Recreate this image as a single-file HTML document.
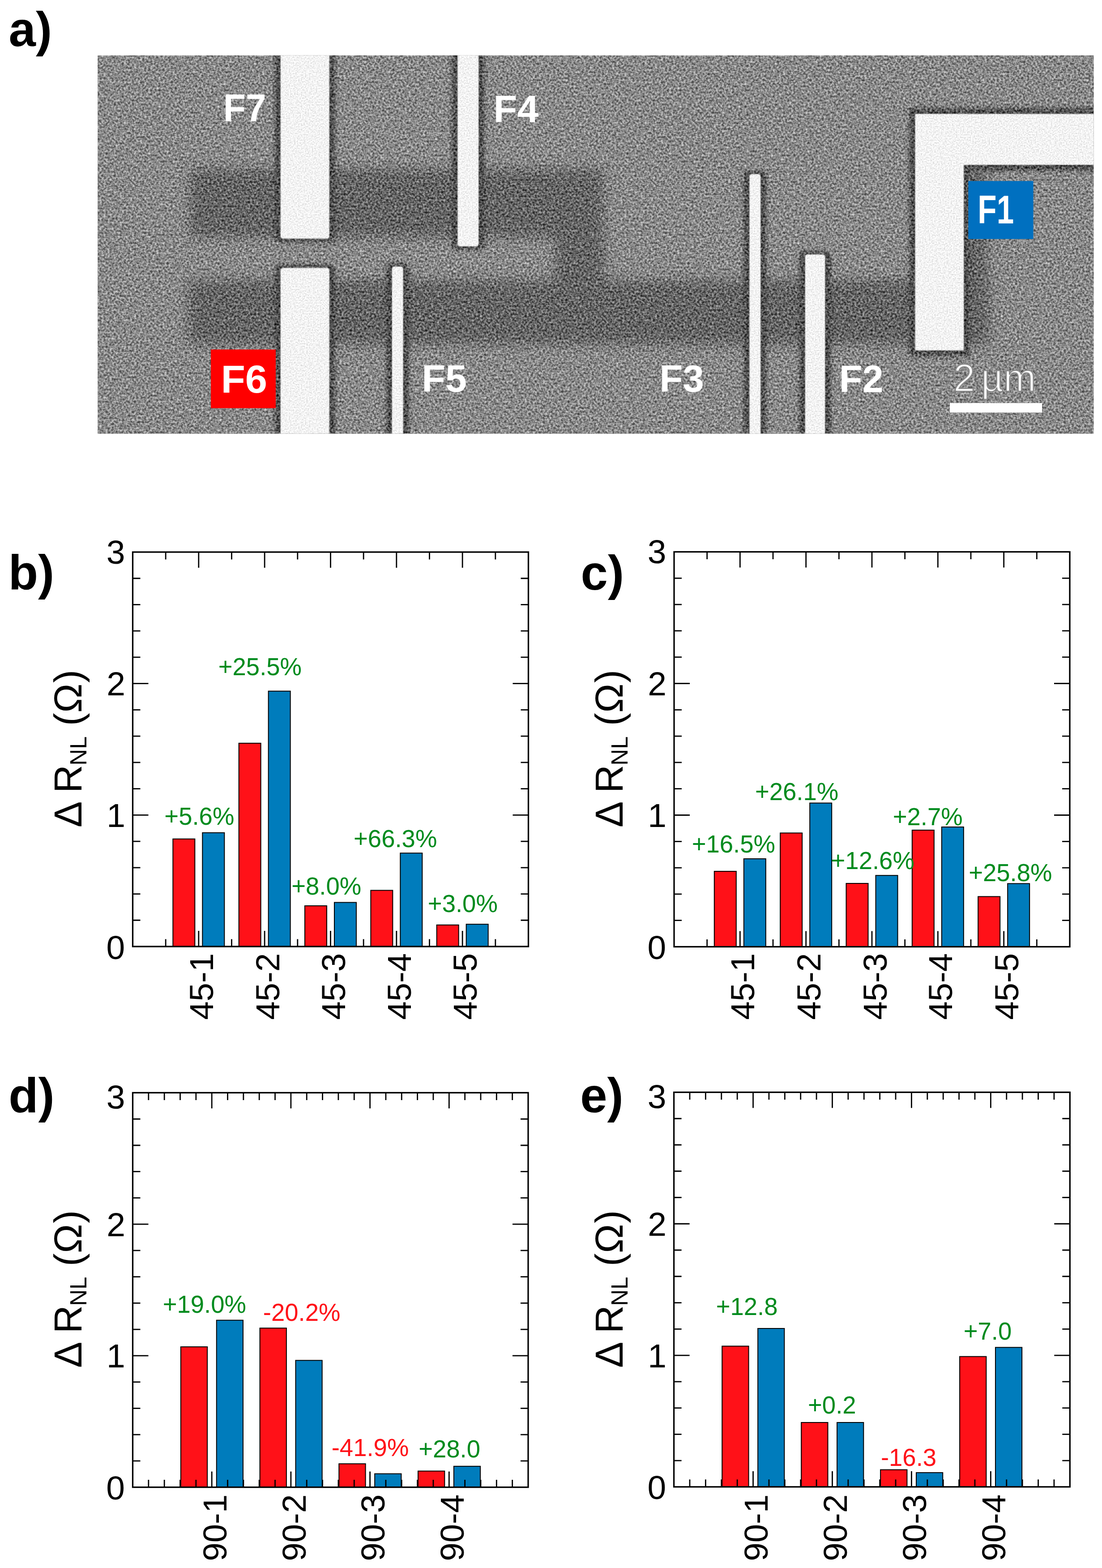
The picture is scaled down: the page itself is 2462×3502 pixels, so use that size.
<!DOCTYPE html><html><head><meta charset="utf-8"><title>Figure</title><style>html,body{margin:0;padding:0;background:#fff;}body{width:2462px;height:3502px;overflow:hidden;}svg{display:block;}text{font-family:"Liberation Sans", Arial, sans-serif;}</style></head><body>
<svg width="2462" height="3502" viewBox="0 0 2462 3502">
<rect width="2462" height="3502" fill="#fff"/>
<defs>
<clipPath id="semclip"><rect x="218.4" y="123.8" width="2225.0" height="844.7"/></clipPath>
<filter id="blur1" x="-20%" y="-30%" width="140%" height="160%"><feGaussianBlur stdDeviation="13"/></filter>
<filter id="blur2" x="-50%" y="-50%" width="200%" height="200%"><feGaussianBlur stdDeviation="4"/></filter>
<filter id="blur3" x="-10%" y="-10%" width="120%" height="120%"><feGaussianBlur stdDeviation="1.2"/></filter>
<filter id="grain" filterUnits="userSpaceOnUse" x="218" y="123" width="2226" height="846" color-interpolation-filters="sRGB"><feTurbulence type="fractalNoise" baseFrequency="0.22" numOctaves="3" seed="7" result="t"/><feColorMatrix in="t" type="matrix" values="1 0 0 0 0  1 0 0 0 0  1 0 0 0 0  0 0 0 0 1" result="n"/><feComposite in="SourceGraphic" in2="n" operator="arithmetic" k1="0" k2="1" k3="0.9500" k4="-0.4750"/></filter>
<filter id="grain2" filterUnits="userSpaceOnUse" x="218" y="123" width="2226" height="846" color-interpolation-filters="sRGB"><feTurbulence type="fractalNoise" baseFrequency="0.33" numOctaves="2" seed="11" result="t"/><feColorMatrix in="t" type="matrix" values="1 0 0 0 0  1 0 0 0 0  1 0 0 0 0  0 0 0 0 1" result="n"/><feComposite in="SourceGraphic" in2="n" operator="arithmetic" k1="0" k2="1" k3="0.35" k4="-0.175" result="c"/><feComposite in="c" in2="SourceGraphic" operator="in"/></filter>
</defs>
<g clip-path="url(#semclip)"><g filter="url(#grain)">
<rect x="218.4" y="123.8" width="2225.0" height="844.7" fill="#898989"/>
<g filter="url(#blur1)" fill="#656565">
<rect x="424" y="378" width="924" height="152" rx="10"/>
<path d="M1240 520H1350V640H1240Z"/>
<rect x="420" y="626" width="1790" height="143" rx="10"/>
<rect x="2150" y="380" width="55" height="390"/>
</g>
<g filter="url(#blur2)" fill="#4e4e4e">
<rect x="614" y="94" width="134.6" height="445.7" rx="8"/>
<rect x="614" y="591.5" width="134.6" height="404.5" rx="8"/>
<rect x="1009.5" y="94" width="72.5" height="463" rx="8"/>
<rect x="863" y="588.5" width="50.5" height="407.5" rx="8"/>
<rect x="1661.5" y="382" width="50.5" height="614" rx="8"/>
<rect x="1786" y="561.5" width="70" height="434.5" rx="8"/>
<path d="M2031.7 241.4H2460V381H2166V795.6H2031.7Z"/>
</g>
</g>
<g filter="url(#grain2)"><g fill="#f3f3f3" filter="url(#blur3)">
<rect x="626" y="100" width="110.6" height="433.7" rx="6"/>
<rect x="626" y="597.5" width="110.6" height="392.5" rx="6"/>
<rect x="1021.5" y="100" width="48.5" height="451" rx="6"/>
<rect x="875" y="594.5" width="26.5" height="395.5" rx="6"/>
<rect x="1673.5" y="388" width="26.5" height="602" rx="6"/>
<rect x="1798" y="567.5" width="46" height="422.5" rx="6"/>
<path d="M2043.7 253.4H2460V369H2154V783.6H2043.7Z"/>
</g></g>
</g>
<rect x="471" y="780.6" width="145" height="131" fill="#ff0000"/>
<rect x="2163.3" y="404.3" width="145.2" height="129.5" fill="#0070c0"/>
<text transform="translate(498.81 270.7) scale(0.9773 1.0417)" font-size="84" font-weight="bold" fill="#fff">F7</text>
<text transform="translate(1102.62 273.3) scale(1.0287 1.0209)" font-size="84" font-weight="bold" fill="#fff">F4</text>
<text transform="translate(493.68 876.75) scale(1.0540 1.0408)" font-size="84" font-weight="bold" fill="#fff">F6</text>
<text transform="translate(942.32 875.26) scale(1.0281 1.0237)" font-size="84" font-weight="bold" fill="#fff">F5</text>
<text transform="translate(1473.6 875.15) scale(1.0137 1.0068)" font-size="84" font-weight="bold" fill="#fff">F3</text>
<text transform="translate(1874.83 876.1) scale(1.0085 1.0230)" font-size="84" font-weight="bold" fill="#fff">F2</text>
<text transform="translate(2184.37 499.3) scale(0.8238 1.0573)" font-size="84" font-weight="bold" fill="#fff">F1</text>
<rect x="2122" y="900.2" width="206.2" height="21.2" fill="#fff"/>
<text x="2130.02" y="873.6" font-size="87" fill="#fff" stroke="#898989" stroke-width="2.6">2</text>
<text x="2191.85" y="873.6" font-size="87" fill="#fff" stroke="#898989" stroke-width="2.6">µm</text>
<text x="19.62" y="102.6" font-size="108.5" font-weight="bold" fill="#000">a)</text>
<text x="18.85" y="1316" font-size="108.5" font-weight="bold" fill="#000">b)</text>
<text x="1297.56" y="1317" font-size="108.5" font-weight="bold" fill="#000">c)</text>
<text x="19.35" y="2483.5" font-size="108.5" font-weight="bold" fill="#000">d)</text>
<text x="1296.16" y="2483.5" font-size="108.5" font-weight="bold" fill="#000">e)</text>
<rect x="386.33" y="1873.7" width="49" height="240.3" fill="#ff1118" stroke="#000" stroke-width="2"/>
<rect x="452.33" y="1859.8" width="49" height="254.2" fill="#007cbc" stroke="#000" stroke-width="2"/>
<rect x="533.67" y="1659.9" width="49" height="454.1" fill="#ff1118" stroke="#000" stroke-width="2"/>
<rect x="599.67" y="1543.6" width="49" height="570.4" fill="#007cbc" stroke="#000" stroke-width="2"/>
<rect x="681" y="2023" width="49" height="91" fill="#ff1118" stroke="#000" stroke-width="2"/>
<rect x="747" y="2015.5" width="49" height="98.5" fill="#007cbc" stroke="#000" stroke-width="2"/>
<rect x="828.33" y="1988.5" width="49" height="125.5" fill="#ff1118" stroke="#000" stroke-width="2"/>
<rect x="894.33" y="1905.3" width="49" height="208.7" fill="#007cbc" stroke="#000" stroke-width="2"/>
<rect x="975.67" y="2065.8" width="49" height="48.2" fill="#ff1118" stroke="#000" stroke-width="2"/>
<rect x="1041.67" y="2064.2" width="49" height="49.8" fill="#007cbc" stroke="#000" stroke-width="2"/>
<path d="M370.17 2114v-16.5M370.17 1233v16.5M443.83 2114v-35M443.83 1233v35M517.5 2114v-16.5M517.5 1233v16.5M591.17 2114v-35M591.17 1233v35M664.83 2114v-16.5M664.83 1233v16.5M738.5 2114v-35M738.5 1233v35M812.17 2114v-16.5M812.17 1233v16.5M885.83 2114v-35M885.83 1233v35M959.5 2114v-16.5M959.5 1233v16.5M1033.17 2114v-35M1033.17 1233v35M1106.83 2114v-16.5M1106.83 1233v16.5M296.5 2055.27h17M1180.5 2055.27h-17M296.5 1996.53h17M1180.5 1996.53h-17M296.5 1937.8h17M1180.5 1937.8h-17M296.5 1879.07h17M1180.5 1879.07h-17M296.5 1820.33h35M1180.5 1820.33h-35M296.5 1761.6h17M1180.5 1761.6h-17M296.5 1702.87h17M1180.5 1702.87h-17M296.5 1644.13h17M1180.5 1644.13h-17M296.5 1585.4h17M1180.5 1585.4h-17M296.5 1526.67h35M1180.5 1526.67h-35M296.5 1467.93h17M1180.5 1467.93h-17M296.5 1409.2h17M1180.5 1409.2h-17M296.5 1350.47h17M1180.5 1350.47h-17M296.5 1291.73h17M1180.5 1291.73h-17" stroke="#000" stroke-width="2.8" fill="none"/>
<rect x="296.5" y="1233" width="884" height="881" fill="none" stroke="#000" stroke-width="3.3"/>
<text x="237.42" y="2141.77" font-size="75" fill="#000">0</text>
<text x="238.15" y="1846.83" font-size="75" fill="#000">1</text>
<text x="238.26" y="1553.17" font-size="75" fill="#000">2</text>
<text x="237.78" y="1258.77" font-size="75" fill="#000">3</text>
<text transform="translate(475.79 2277.81) rotate(-90)" font-size="74.5" fill="#000">45-1</text>
<text transform="translate(623.89 2277.81) rotate(-90)" font-size="74.5" fill="#000">45-2</text>
<text transform="translate(771.22 2277.81) rotate(-90)" font-size="74.5" fill="#000">45-3</text>
<text transform="translate(917.79 2277.81) rotate(-90)" font-size="74.5" fill="#000">45-4</text>
<text transform="translate(1065.12 2277.81) rotate(-90)" font-size="74.5" fill="#000">45-5</text>
<text transform="translate(367.34 1842.45) scale(1 1.03)" font-size="54.5" fill="#008b1e">+5.6%</text>
<text transform="translate(487.74 1508.05) scale(1 1.03)" font-size="54.5" fill="#008b1e">+25.5%</text>
<text transform="translate(651.24 1998.45) scale(1 1.03)" font-size="54.5" fill="#008b1e">+8.0%</text>
<text transform="translate(790.04 1891.75) scale(1 1.03)" font-size="54.5" fill="#008b1e">+66.3%</text>
<text transform="translate(955.84 2037.45) scale(1 1.03)" font-size="54.5" fill="#008b1e">+3.0%</text>
<text transform="rotate(-90)" fill="#000"><tspan x="-1848.11" y="182.3" font-size="87.5">Δ</tspan><tspan x="-1771.28" y="182.3" font-size="87.5">R</tspan><tspan x="-1709.78" y="192.6" font-size="51">NL</tspan><tspan x="-1621.23" y="181.78" font-size="87.5">(</tspan><tspan x="-1592.12" y="182.3" font-size="87.5">Ω</tspan><tspan x="-1524.91" y="181.78" font-size="87.5">)</tspan></text>
<rect x="1595.83" y="1946" width="49" height="168.5" fill="#ff1118" stroke="#000" stroke-width="2"/>
<rect x="1661.83" y="1918" width="49" height="196.5" fill="#007cbc" stroke="#000" stroke-width="2"/>
<rect x="1743.17" y="1860.4" width="49" height="254.1" fill="#ff1118" stroke="#000" stroke-width="2"/>
<rect x="1809.17" y="1793.5" width="49" height="321" fill="#007cbc" stroke="#000" stroke-width="2"/>
<rect x="1890.5" y="1973" width="49" height="141.5" fill="#ff1118" stroke="#000" stroke-width="2"/>
<rect x="1956.5" y="1955.2" width="49" height="159.3" fill="#007cbc" stroke="#000" stroke-width="2"/>
<rect x="2037.83" y="1854" width="49" height="260.5" fill="#ff1118" stroke="#000" stroke-width="2"/>
<rect x="2103.83" y="1847" width="49" height="267.5" fill="#007cbc" stroke="#000" stroke-width="2"/>
<rect x="2185.17" y="2002.4" width="49" height="112.1" fill="#ff1118" stroke="#000" stroke-width="2"/>
<rect x="2251.17" y="1973.4" width="49" height="141.1" fill="#007cbc" stroke="#000" stroke-width="2"/>
<path d="M1579.67 2114.5v-16.5M1579.67 1232.5v16.5M1653.33 2114.5v-35M1653.33 1232.5v35M1727 2114.5v-16.5M1727 1232.5v16.5M1800.67 2114.5v-35M1800.67 1232.5v35M1874.33 2114.5v-16.5M1874.33 1232.5v16.5M1948 2114.5v-35M1948 1232.5v35M2021.67 2114.5v-16.5M2021.67 1232.5v16.5M2095.33 2114.5v-35M2095.33 1232.5v35M2169 2114.5v-16.5M2169 1232.5v16.5M2242.67 2114.5v-35M2242.67 1232.5v35M2316.33 2114.5v-16.5M2316.33 1232.5v16.5M1506 2055.7h17M2390 2055.7h-17M1506 1996.9h17M2390 1996.9h-17M1506 1938.1h17M2390 1938.1h-17M1506 1879.3h17M2390 1879.3h-17M1506 1820.5h35M2390 1820.5h-35M1506 1761.7h17M2390 1761.7h-17M1506 1702.9h17M2390 1702.9h-17M1506 1644.1h17M2390 1644.1h-17M1506 1585.3h17M2390 1585.3h-17M1506 1526.5h35M2390 1526.5h-35M1506 1467.7h17M2390 1467.7h-17M1506 1408.9h17M2390 1408.9h-17M1506 1350.1h17M2390 1350.1h-17M1506 1291.3h17M2390 1291.3h-17" stroke="#000" stroke-width="2.8" fill="none"/>
<rect x="1506" y="1232.5" width="884" height="882" fill="none" stroke="#000" stroke-width="3.3"/>
<text x="1446.42" y="2142.27" font-size="75" fill="#000">0</text>
<text x="1447.15" y="1847" font-size="75" fill="#000">1</text>
<text x="1447.26" y="1553" font-size="75" fill="#000">2</text>
<text x="1446.78" y="1258.27" font-size="75" fill="#000">3</text>
<text transform="translate(1685.29 2277.81) rotate(-90)" font-size="74.5" fill="#000">45-1</text>
<text transform="translate(1833.39 2277.81) rotate(-90)" font-size="74.5" fill="#000">45-2</text>
<text transform="translate(1980.72 2277.81) rotate(-90)" font-size="74.5" fill="#000">45-3</text>
<text transform="translate(2127.29 2277.81) rotate(-90)" font-size="74.5" fill="#000">45-4</text>
<text transform="translate(2274.62 2277.81) rotate(-90)" font-size="74.5" fill="#000">45-5</text>
<text transform="translate(1545.64 1904.25) scale(1 1.03)" font-size="54.5" fill="#008b1e">+16.5%</text>
<text transform="translate(1686.94 1787.05) scale(1 1.03)" font-size="54.5" fill="#008b1e">+26.1%</text>
<text transform="translate(1856.54 1940.55) scale(1 1.03)" font-size="54.5" fill="#008b1e">+12.6%</text>
<text transform="translate(1994.74 1843.17) scale(1 1.03)" font-size="54.5" fill="#008b1e">+2.7%</text>
<text transform="translate(2164.14 1968.45) scale(1 1.03)" font-size="54.5" fill="#008b1e">+25.8%</text>
<text transform="rotate(-90)" fill="#000"><tspan x="-1848.11" y="1391.3" font-size="87.5">Δ</tspan><tspan x="-1771.28" y="1391.3" font-size="87.5">R</tspan><tspan x="-1709.78" y="1401.6" font-size="51">NL</tspan><tspan x="-1621.23" y="1390.78" font-size="87.5">(</tspan><tspan x="-1592.12" y="1391.3" font-size="87.5">Ω</tspan><tspan x="-1524.91" y="1390.78" font-size="87.5">)</tspan></text>
<rect x="403.9" y="3008" width="59.3" height="313.6" fill="#ff1118" stroke="#000" stroke-width="2"/>
<rect x="483.8" y="2948.6" width="59.2" height="373" fill="#007cbc" stroke="#000" stroke-width="2"/>
<rect x="580.6" y="2966.2" width="59.3" height="355.4" fill="#ff1118" stroke="#000" stroke-width="2"/>
<rect x="660.5" y="3038.3" width="59.2" height="283.3" fill="#007cbc" stroke="#000" stroke-width="2"/>
<rect x="757.3" y="3269.2" width="59.3" height="52.4" fill="#ff1118" stroke="#000" stroke-width="2"/>
<rect x="837.2" y="3291.5" width="59.2" height="30.1" fill="#007cbc" stroke="#000" stroke-width="2"/>
<rect x="934" y="3285.5" width="59.3" height="36.1" fill="#ff1118" stroke="#000" stroke-width="2"/>
<rect x="1013.9" y="3274.8" width="59.2" height="46.8" fill="#007cbc" stroke="#000" stroke-width="2"/>
<path d="M331.84 3321.6v-16.5M331.84 2440.5v16.5M367.18 3321.6v-16.5M367.18 2440.5v16.5M402.52 3321.6v-16.5M402.52 2440.5v16.5M437.86 3321.6v-16.5M437.86 2440.5v16.5M473.2 3321.6v-35M473.2 2440.5v35M508.54 3321.6v-16.5M508.54 2440.5v16.5M543.88 3321.6v-16.5M543.88 2440.5v16.5M579.22 3321.6v-16.5M579.22 2440.5v16.5M614.56 3321.6v-16.5M614.56 2440.5v16.5M649.9 3321.6v-35M649.9 2440.5v35M685.24 3321.6v-16.5M685.24 2440.5v16.5M720.58 3321.6v-16.5M720.58 2440.5v16.5M755.92 3321.6v-16.5M755.92 2440.5v16.5M791.26 3321.6v-16.5M791.26 2440.5v16.5M826.6 3321.6v-35M826.6 2440.5v35M861.94 3321.6v-16.5M861.94 2440.5v16.5M897.28 3321.6v-16.5M897.28 2440.5v16.5M932.62 3321.6v-16.5M932.62 2440.5v16.5M967.96 3321.6v-16.5M967.96 2440.5v16.5M1003.3 3321.6v-35M1003.3 2440.5v35M1038.64 3321.6v-16.5M1038.64 2440.5v16.5M1073.98 3321.6v-16.5M1073.98 2440.5v16.5M1109.32 3321.6v-16.5M1109.32 2440.5v16.5M1144.66 3321.6v-16.5M1144.66 2440.5v16.5M296.5 3262.86h17M1180 3262.86h-17M296.5 3204.12h17M1180 3204.12h-17M296.5 3145.38h17M1180 3145.38h-17M296.5 3086.64h17M1180 3086.64h-17M296.5 3027.9h35M1180 3027.9h-35M296.5 2969.16h17M1180 2969.16h-17M296.5 2910.42h17M1180 2910.42h-17M296.5 2851.68h17M1180 2851.68h-17M296.5 2792.94h17M1180 2792.94h-17M296.5 2734.2h35M1180 2734.2h-35M296.5 2675.46h17M1180 2675.46h-17M296.5 2616.72h17M1180 2616.72h-17M296.5 2557.98h17M1180 2557.98h-17M296.5 2499.24h17M1180 2499.24h-17" stroke="#000" stroke-width="2.8" fill="none"/>
<rect x="296.5" y="2440.5" width="883.5" height="881.1" fill="none" stroke="#000" stroke-width="3.3"/>
<text x="237.32" y="3348.87" font-size="75" fill="#000">0</text>
<text x="238.05" y="3054.4" font-size="75" fill="#000">1</text>
<text x="238.16" y="2760.7" font-size="75" fill="#000">2</text>
<text x="237.68" y="2476.27" font-size="75" fill="#000">3</text>
<text transform="translate(505.92 3486.79) rotate(-90)" font-size="74.5" fill="#000">90-1</text>
<text transform="translate(682.62 3486.79) rotate(-90)" font-size="74.5" fill="#000">90-2</text>
<text transform="translate(859.32 3486.79) rotate(-90)" font-size="74.5" fill="#000">90-3</text>
<text transform="translate(1036.02 3486.79) rotate(-90)" font-size="74.5" fill="#000">90-4</text>
<text transform="translate(363.64 2932.15) scale(1 1.03)" font-size="54.5" fill="#008b1e">+19.0%</text>
<text transform="translate(587.78 2950.25) scale(1 1.03)" font-size="54.5" fill="#ff1118">-20.2%</text>
<text transform="translate(740.68 3251.85) scale(1 1.03)" font-size="54.5" fill="#ff1118">-41.9%</text>
<text transform="translate(935.14 3255.15) scale(1 1.03)" font-size="54.5" fill="#008b1e">+28.0</text>
<text transform="rotate(-90)" fill="#000"><tspan x="-3055.11" y="182.3" font-size="87.5">Δ</tspan><tspan x="-2978.28" y="182.3" font-size="87.5">R</tspan><tspan x="-2916.78" y="192.6" font-size="51">NL</tspan><tspan x="-2828.23" y="181.78" font-size="87.5">(</tspan><tspan x="-2799.12" y="182.3" font-size="87.5">Ω</tspan><tspan x="-2731.91" y="181.78" font-size="87.5">)</tspan></text>
<rect x="1613.24" y="3006.5" width="59.3" height="314.3" fill="#ff1118" stroke="#000" stroke-width="2"/>
<rect x="1693.14" y="2967" width="59.2" height="353.8" fill="#007cbc" stroke="#000" stroke-width="2"/>
<rect x="1790.18" y="3177" width="59.3" height="143.8" fill="#ff1118" stroke="#000" stroke-width="2"/>
<rect x="1870.08" y="3177" width="59.2" height="143.8" fill="#007cbc" stroke="#000" stroke-width="2"/>
<rect x="1967.12" y="3282.5" width="59.3" height="38.3" fill="#ff1118" stroke="#000" stroke-width="2"/>
<rect x="2047.02" y="3289" width="59.2" height="31.8" fill="#007cbc" stroke="#000" stroke-width="2"/>
<rect x="2144.06" y="3029.7" width="59.3" height="291.1" fill="#ff1118" stroke="#000" stroke-width="2"/>
<rect x="2223.96" y="3009.3" width="59.2" height="311.5" fill="#007cbc" stroke="#000" stroke-width="2"/>
<path d="M1540.99 3320.8v-16.5M1540.99 2439.5v16.5M1576.38 3320.8v-16.5M1576.38 2439.5v16.5M1611.76 3320.8v-16.5M1611.76 2439.5v16.5M1647.15 3320.8v-16.5M1647.15 2439.5v16.5M1682.54 3320.8v-35M1682.54 2439.5v35M1717.93 3320.8v-16.5M1717.93 2439.5v16.5M1753.32 3320.8v-16.5M1753.32 2439.5v16.5M1788.7 3320.8v-16.5M1788.7 2439.5v16.5M1824.09 3320.8v-16.5M1824.09 2439.5v16.5M1859.48 3320.8v-35M1859.48 2439.5v35M1894.87 3320.8v-16.5M1894.87 2439.5v16.5M1930.26 3320.8v-16.5M1930.26 2439.5v16.5M1965.64 3320.8v-16.5M1965.64 2439.5v16.5M2001.03 3320.8v-16.5M2001.03 2439.5v16.5M2036.42 3320.8v-35M2036.42 2439.5v35M2071.81 3320.8v-16.5M2071.81 2439.5v16.5M2107.2 3320.8v-16.5M2107.2 2439.5v16.5M2142.58 3320.8v-16.5M2142.58 2439.5v16.5M2177.97 3320.8v-16.5M2177.97 2439.5v16.5M2213.36 3320.8v-35M2213.36 2439.5v35M2248.75 3320.8v-16.5M2248.75 2439.5v16.5M2284.14 3320.8v-16.5M2284.14 2439.5v16.5M2319.52 3320.8v-16.5M2319.52 2439.5v16.5M2354.91 3320.8v-16.5M2354.91 2439.5v16.5M1505.6 3262.05h17M2390.3 3262.05h-17M1505.6 3203.29h17M2390.3 3203.29h-17M1505.6 3144.54h17M2390.3 3144.54h-17M1505.6 3085.79h17M2390.3 3085.79h-17M1505.6 3027.03h35M2390.3 3027.03h-35M1505.6 2968.28h17M2390.3 2968.28h-17M1505.6 2909.53h17M2390.3 2909.53h-17M1505.6 2850.77h17M2390.3 2850.77h-17M1505.6 2792.02h17M2390.3 2792.02h-17M1505.6 2733.27h35M2390.3 2733.27h-35M1505.6 2674.51h17M2390.3 2674.51h-17M1505.6 2615.76h17M2390.3 2615.76h-17M1505.6 2557.01h17M2390.3 2557.01h-17M1505.6 2498.25h17M2390.3 2498.25h-17" stroke="#000" stroke-width="2.8" fill="none"/>
<rect x="1505.6" y="2439.5" width="884.7" height="881.3" fill="none" stroke="#000" stroke-width="3.3"/>
<text x="1446.42" y="3348.07" font-size="75" fill="#000">0</text>
<text x="1447.15" y="3053.53" font-size="75" fill="#000">1</text>
<text x="1447.26" y="2759.77" font-size="75" fill="#000">2</text>
<text x="1446.78" y="2475.27" font-size="75" fill="#000">3</text>
<text transform="translate(1715.26 3486.79) rotate(-90)" font-size="74.5" fill="#000">90-1</text>
<text transform="translate(1892.2 3486.79) rotate(-90)" font-size="74.5" fill="#000">90-2</text>
<text transform="translate(2069.14 3486.79) rotate(-90)" font-size="74.5" fill="#000">90-3</text>
<text transform="translate(2246.08 3486.79) rotate(-90)" font-size="74.5" fill="#000">90-4</text>
<text transform="translate(1599.64 2937.45) scale(1 1.03)" font-size="54.5" fill="#008b1e">+12.8</text>
<text transform="translate(1805.04 3156.85) scale(1 1.03)" font-size="54.5" fill="#008b1e">+0.2</text>
<text transform="translate(1967.88 3274.45) scale(1 1.03)" font-size="54.5" fill="#ff1118">-16.3</text>
<text transform="translate(2152.64 2992.35) scale(1 1.03)" font-size="54.5" fill="#008b1e">+7.0</text>
<text transform="rotate(-90)" fill="#000"><tspan x="-3055.11" y="1391.3" font-size="87.5">Δ</tspan><tspan x="-2978.28" y="1391.3" font-size="87.5">R</tspan><tspan x="-2916.78" y="1401.6" font-size="51">NL</tspan><tspan x="-2828.23" y="1390.78" font-size="87.5">(</tspan><tspan x="-2799.12" y="1391.3" font-size="87.5">Ω</tspan><tspan x="-2731.91" y="1390.78" font-size="87.5">)</tspan></text>
</svg></body></html>
